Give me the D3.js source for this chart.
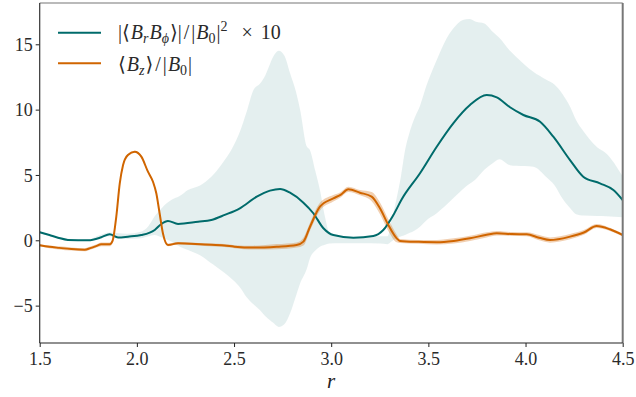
<!DOCTYPE html>
<html>
<head>
<meta charset="utf-8">
<script src="https://cdn.jsdelivr.net/npm/d3@7"></script>
<style>
  html, body { margin: 0; padding: 0; background: #fff; }
  svg { display: block; }
  svg text { font-family: "Liberation Serif", "DejaVu Serif", "Noto Serif", serif; }
</style>
</head>
<body>
<svg id="chart" width="636" height="397"></svg>
<script>
// ---------- data ----------
const xTicks = [1.5, 2.0, 2.5, 3.0, 3.5, 4.0, 4.5];
const yTicks = [-5, 0, 5, 10, 15];

// |<Br Bphi>|/|B0|^2 x 10 : mean line
const stressR = [1.5, 1.55, 1.594, 1.645, 1.75, 1.817, 1.86, 1.903, 1.954, 2.023, 2.092, 2.126, 2.16, 2.212, 2.315, 2.383, 2.452, 2.53, 2.617, 2.685, 2.737, 2.788, 2.857, 2.908, 2.96, 3.011, 3.114, 3.217, 3.268, 3.32, 3.363, 3.457, 3.543, 3.628, 3.714, 3.8, 3.852, 3.92, 3.989, 4.075, 4.143, 4.229, 4.297, 4.383, 4.452, 4.5];
const stressVal = [0.62, 0.4, 0.2, 0.03, 0.0, 0.23, 0.46, 0.22, 0.28, 0.4, 0.79, 1.25, 1.48, 1.25, 1.42, 1.55, 1.94, 2.45, 3.34, 3.8, 3.93, 3.64, 2.88, 2.07, 0.92, 0.4, 0.2, 0.33, 0.79, 1.94, 3.14, 5.13, 7.16, 8.95, 10.35, 11.12, 10.94, 10.18, 9.59, 9.07, 7.93, 6.14, 4.87, 4.36, 3.85, 3.08];

// shaded spread of the stress
const bandR = [1.5, 1.6, 1.7, 1.75, 1.8, 1.86, 1.95, 2.02, 2.06, 2.09, 2.13, 2.177, 2.222, 2.263, 2.325, 2.383, 2.41, 2.452, 2.496, 2.53, 2.564, 2.6, 2.634, 2.66, 2.685, 2.7, 2.73, 2.76, 2.788, 2.82, 2.84, 2.874, 2.891, 2.917, 2.942, 2.968, 2.99, 3.05, 3.15, 3.25, 3.29, 3.31, 3.335, 3.36, 3.38, 3.402, 3.43, 3.457, 3.488, 3.543, 3.585, 3.628, 3.677, 3.71, 3.745, 3.788, 3.831, 3.865, 3.92, 3.951, 4.04, 4.105, 4.15, 4.19, 4.23, 4.26, 4.3, 4.37, 4.414, 4.5];
const bandUpper = [0.7, 0.25, 0.05, 0.06, 0.35, 0.6, 0.5, 0.65, 1.1, 1.8, 2.5, 3.08, 3.4, 3.85, 4.2, 4.87, 5.3, 6.14, 7.2, 8.3, 9.8, 11.5, 12.0, 12.6, 13.5, 14.0, 14.5, 14.1, 12.8, 11.3, 10.0, 7.2, 6.9, 5.38, 3.85, 1.8, 0.6, 0.3, 0.2, 0.3, 0.3, 1.5, 3.1, 5.0, 6.9, 8.2, 9.4, 10.3, 11.75, 13.8, 15.2, 16.2, 16.85, 16.93, 16.73, 16.6, 15.96, 15.5, 14.5, 14.05, 12.9, 12.3, 11.9, 11.2, 10.2, 9.2, 8.3, 7.1, 6.67, 4.9];
const bandLower = [0.55, 0.15, -0.05, -0.06, 0.1, 0.3, 0.1, 0.15, 0.3, 0.4, 0.2, -0.1, -0.5, -0.74, -1.15, -1.76, -2.04, -2.5, -3.06, -3.6, -4.34, -4.9, -5.36, -5.8, -6.12, -6.3, -6.63, -6.4, -5.6, -4.2, -3.3, -2.2, -1.35, -0.8, -0.49, -0.35, -0.25, -0.22, -0.22, -0.25, -0.3, -0.1, 0.15, 0.3, 0.4, 0.55, 0.75, 1.04, 1.5, 2.07, 2.6, 3.21, 3.9, 4.3, 4.7, 5.4, 5.9, 6.2, 5.75, 5.7, 5.63, 4.87, 4.2, 3.2, 2.45, 2.0, 1.9, 1.86, 1.84, 1.76];

// <Bz>/|B0| : mean line and its half-width
const bzR = [1.5, 1.55, 1.6, 1.663, 1.731, 1.76, 1.79, 1.817, 1.86, 1.875, 1.894, 1.912, 1.929, 1.954, 1.989, 2.023, 2.057, 2.083, 2.1, 2.117, 2.134, 2.16, 2.212, 2.349, 2.45, 2.503, 2.6, 2.72, 2.822, 2.857, 2.891, 2.942, 3.011, 3.05, 3.088, 3.148, 3.208, 3.251, 3.294, 3.337, 3.354, 3.45, 3.543, 3.63, 3.714, 3.8, 3.852, 3.93, 4.006, 4.07, 4.126, 4.229, 4.3, 4.366, 4.434, 4.5];
const bzVal = [-0.38, -0.5, -0.58, -0.67, -0.72, -0.6, -0.45, -0.31, -0.31, -0.05, 1.8, 4.36, 5.76, 6.53, 6.78, 6.4, 5.25, 4.48, 3.6, 2.07, 0.54, -0.36, -0.23, -0.33, -0.4, -0.49, -0.56, -0.49, -0.36, -0.1, 1.04, 2.57, 3.21, 3.5, 3.9, 3.64, 3.34, 2.45, 1.17, 0.15, -0.05, -0.12, -0.15, -0.05, 0.15, 0.42, 0.54, 0.48, 0.46, 0.2, 0.02, 0.28, 0.6, 1.09, 0.84, 0.4];
const bzErr = [0.08, 0.1, 0.12, 0.12, 0.12, 0.12, 0.12, 0.15, 0.15, 0.15, 0.15, 0.15, 0.1, 0.08, 0.08, 0.08, 0.1, 0.12, 0.12, 0.12, 0.12, 0.1, 0.1, 0.1, 0.12, 0.12, 0.15, 0.2, 0.2, 0.3, 0.3, 0.3, 0.25, 0.2, 0.2, 0.2, 0.35, 0.45, 0.45, 0.3, 0.15, 0.15, 0.18, 0.2, 0.2, 0.2, 0.18, 0.15, 0.15, 0.2, 0.2, 0.2, 0.18, 0.15, 0.12, 0.1];

const seriesColors = { stress: "#006b6b", bz: "#d06500" };

// ---------- layout ----------
const svg = d3.select("#chart");
const L = 39.7, R = 622.7, T = 3, B = 343;
const x = d3.scaleLinear().domain([1.5, 4.5]).range([L, R]);
const y = d3.scaleLinear().domain([-7.86, 18.16]).range([B, T]);

svg.append("clipPath").attr("id", "plotclip")
  .append("rect").attr("x", L).attr("y", T).attr("width", R - L).attr("height", B - T);
const plot = svg.append("g").attr("clip-path", "url(#plotclip)");

const bandData = bandR.map((r, i) => ({ r, lo: bandLower[i], hi: bandUpper[i] }));
plot.append("path").datum(bandData)
  .attr("d", d3.area().x(d => x(d.r)).y0(d => y(d.lo)).y1(d => y(d.hi)).curve(d3.curveMonotoneX))
  .attr("fill", seriesColors.stress).attr("fill-opacity", 0.105).attr("stroke", "none");

const bzData = bzR.map((r, i) => ({ r, v: bzVal[i], e: bzErr[i] }));
plot.append("path").datum(bzData)
  .attr("d", d3.area().x(d => x(d.r)).y0(d => y(d.v - d.e)).y1(d => y(d.v + d.e)).curve(d3.curveMonotoneX))
  .attr("fill", seriesColors.bz).attr("fill-opacity", 0.3).attr("stroke", "none");

const stressData = stressR.map((r, i) => ({ r, v: stressVal[i] }));
const lineGen = d3.line().x(d => x(d.r)).y(d => y(d.v)).curve(d3.curveMonotoneX);
plot.append("path").datum(stressData).attr("d", lineGen)
  .attr("fill", "none").attr("stroke", seriesColors.stress).attr("stroke-width", 2);
plot.append("path").datum(bzData).attr("d", lineGen)
  .attr("fill", "none").attr("stroke", seriesColors.bz).attr("stroke-width", 2);

// ---------- axes ----------
const fmtY = v => (v < 0 ? "\u2212" + Math.abs(v) : String(v));
const xAxis = svg.append("g").attr("transform", `translate(0,${B})`)
  .call(d3.axisBottom(x).tickValues(xTicks).tickFormat(d3.format(".1f")).tickSize(4).tickSizeOuter(0));
xAxis.attr("font-family", null).attr("font-size", 18);
xAxis.select(".domain").remove();
xAxis.selectAll("line").attr("stroke", "#222").attr("stroke-width", 1);
xAxis.selectAll("text").attr("dy", null).attr("y", 22).attr("fill", "#2a2a2a");

const yAxis = svg.append("g").attr("transform", `translate(${L},0)`)
  .call(d3.axisLeft(y).tickValues(yTicks).tickFormat(fmtY).tickSize(4).tickSizeOuter(0));
yAxis.attr("font-family", null).attr("font-size", 18);
yAxis.select(".domain").remove();
yAxis.selectAll("line").attr("stroke", "#222").attr("stroke-width", 1);
yAxis.selectAll("text").attr("x", -7).attr("dy", "0.35em").attr("fill", "#2a2a2a");

// spines
svg.append("line").attr("x1", L).attr("x2", R).attr("y1", T).attr("y2", T).attr("stroke", "#777").attr("stroke-width", 1.2);
svg.append("line").attr("x1", R).attr("x2", R).attr("y1", T).attr("y2", B).attr("stroke", "#777").attr("stroke-width", 2);
svg.append("line").attr("x1", L).attr("x2", L).attr("y1", T).attr("y2", B).attr("stroke", "#333").attr("stroke-width", 1.2);
svg.append("line").attr("x1", L).attr("x2", R).attr("y1", B).attr("y2", B).attr("stroke", "#222").attr("stroke-width", 1.2);

svg.append("text").attr("x", 331).attr("y", 388).attr("text-anchor", "middle")
  .attr("font-size", 21).attr("font-style", "italic").attr("fill", "#222").text("r");

// ---------- legend ----------
function addLabel(g, parts) {
  const t = g.append("text").attr("font-size", 20).attr("fill", "#2a2a2a");
  parts.forEach(p => {
    const ts = t.append("tspan").text(p.s);
    if (p.it) ts.attr("font-style", "italic");
    if (p.sz) ts.attr("font-size", p.sz);
    if (p.dy) ts.attr("dy", p.dy);
    if (p.dx) ts.attr("dx", p.dx);
  });
  return t;
}
const leg = svg.append("g");
leg.append("line").attr("x1", 58).attr("x2", 101).attr("y1", 32.7).attr("y2", 32.7)
  .attr("stroke", seriesColors.stress).attr("stroke-width", 2);
leg.append("line").attr("x1", 58).attr("x2", 101).attr("y1", 63.3).attr("y2", 63.3)
  .attr("stroke", seriesColors.bz).attr("stroke-width", 2);

const l1 = leg.append("g").attr("transform", "translate(118,38.5)");
addLabel(l1, [
  { s: "|\u27E8" },
  { s: "B", it: true, dx: 1 },
  { s: "r", it: true, sz: 14, dy: 4 },
  { s: "B", it: true, dy: -4, dx: 1 },
  { s: "\u03D5", it: true, sz: 14, dy: 4 },
  { s: "\u27E9|", dy: -4, dx: 1 },
  { s: "/", dx: 2 },
  { s: "|", dx: 2 },
  { s: "B", it: true, dx: 1 },
  { s: "0", sz: 14, dy: 4 },
  { s: "|", dy: -4, dx: 1 },
  { s: "2", sz: 14, dy: -8 },
  { s: "\u00D7", dy: 8, dx: 14 },
  { s: "10", dx: 8 }
]);
const l2 = leg.append("g").attr("transform", "translate(118,71)");
addLabel(l2, [
  { s: "\u27E8" },
  { s: "B", it: true, dx: 1 },
  { s: "z", it: true, sz: 14, dy: 4 },
  { s: "\u27E9", dy: -4, dx: 1 },
  { s: "/", dx: 2 },
  { s: "|", dx: 2 },
  { s: "B", it: true, dx: 1 },
  { s: "0", sz: 14, dy: 4 },
  { s: "|", dy: -4, dx: 1 }
]);
</script>
</body>
</html>
